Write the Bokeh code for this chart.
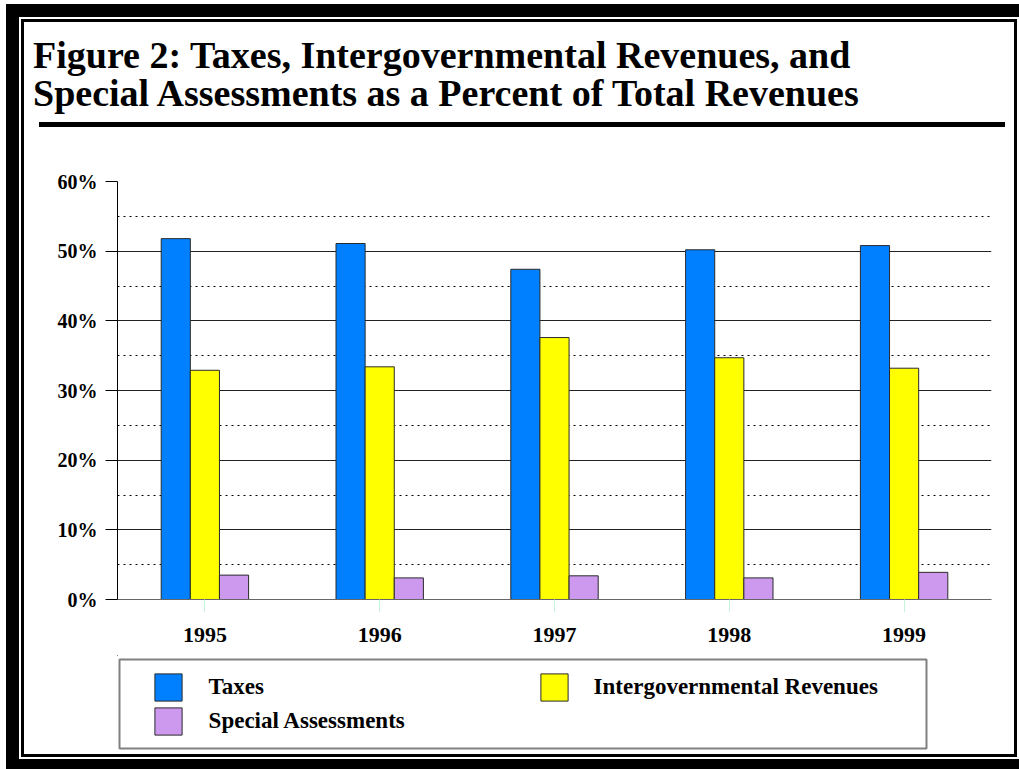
from bokeh.plotting import figure
from bokeh.layouts import column
from bokeh.models import (FactorRange, Range1d, FixedTicker, PrintfTickFormatter, Grid,
                          BoxAnnotation, Legend, LegendItem, ColumnDataSource, Div)
from bokeh.transform import dodge
from bokeh.embed import file_html
from bokeh.resources import INLINE

# ---------------- data ----------------
years = ["1995", "1996", "1997", "1998", "1999"]
taxes = [51.8, 51.1, 47.4, 50.2, 50.8]
intergov = [32.9, 33.4, 37.6, 34.7, 33.2]
special = [3.5, 3.1, 3.4, 3.1, 3.9]
series_names = ["Taxes", "Intergovernmental Revenues", "Special Assessments"]
y_ticks = [0, 10, 20, 30, 40, 50, 60]
y_minor = [5, 15, 25, 35, 45, 55]
title_lines = ["Figure 2: Taxes, Intergovernmental Revenues, and",
               "Special Assessments as a Percent of Total Revenues"]

FONT = "Liberation Serif"
W = 990
HA, HB, HC = 118, 515, 99
colors = ["#0080ff", "#ffff00", "#cc99ee"]
bar_line = "#2b2b2b"

# ---------------- header: title + rule (HTML) ----------------
header_html = (
    '<div style="position:relative;width:%dpx;height:%dpx;">'
    '<div style="position:absolute;left:9px;top:14.2px;font-family:\'%s\';font-weight:bold;'
    'font-size:38px;line-height:38px;color:black;white-space:nowrap;">%s<br>%s</div>'
    '<div style="position:absolute;left:15px;top:99.7px;width:966px;height:5.6px;'
    'background:black;"></div></div>'
) % (W, HA, FONT, title_lines[0], title_lines[1])
pa = Div(text=header_html, width=W, height=HA, margin=(0, 0, 0, 0))

# ---------------- chart ----------------
src = ColumnDataSource(dict(year=years, taxes=taxes, intergov=intergov, special=special))
p = figure(width=W, height=HB, output_backend="svg", toolbar_location=None,
           x_range=FactorRange(factors=years), y_range=Range1d(0, 60),
           min_border_left=93, min_border_right=23, min_border_top=41, min_border_bottom=56)
p.background_fill_color = "white"
p.border_fill_color = "white"
p.outline_line_color = None

bw = 1 / 6
p.vbar(x=dodge("year", -bw, range=p.x_range), top="taxes", width=bw, source=src,
       fill_color=colors[0], line_color=bar_line, line_width=1)
p.vbar(x=dodge("year", 0, range=p.x_range), top="intergov", width=bw, source=src,
       fill_color=colors[1], line_color=bar_line, line_width=1)
p.vbar(x=dodge("year", bw, range=p.x_range), top="special", width=bw, source=src,
       fill_color=colors[2], line_color=bar_line, line_width=1)

p.xgrid.visible = False
p.ygrid.ticker = FixedTicker(ticks=y_ticks[1:])
p.ygrid.grid_line_color = "#222222"
p.ygrid.grid_line_width = 1
p.add_layout(Grid(dimension=1, ticker=FixedTicker(ticks=y_minor), grid_line_color="black",
                  grid_line_dash="2 4", grid_line_width=1))

ya = p.yaxis[0]
ya.ticker = FixedTicker(ticks=y_ticks)
ya.formatter = PrintfTickFormatter(format="%d%%")
ya.axis_line_color = "black"
ya.major_tick_line_color = "black"
ya.major_tick_out = 12
ya.major_tick_in = 0
ya.minor_tick_line_color = None
ya.major_label_standoff = 8
ya.major_label_text_font = FONT
ya.major_label_text_font_style = "bold"
ya.major_label_text_font_size = "20px"
ya.major_label_text_color = "black"

xa = p.xaxis[0]
xa.axis_line_color = "#666666"
xa.major_tick_line_color = "#c6f5dc"
xa.major_tick_out = 13
xa.major_tick_in = 0
xa.major_label_standoff = 15
xa.major_label_text_font = FONT
xa.major_label_text_font_style = "bold"
xa.major_label_text_font_size = "22px"
xa.major_label_text_color = "black"

# ---------------- legend panel (frame aligned with chart: page x 117..991) ----------------
pc = figure(width=W, height=HC, output_backend="svg", toolbar_location=None,
            x_range=Range1d(117, 991), y_range=Range1d(HC, 0),
            x_axis_location=None, y_axis_location=None,
            min_border_left=93, min_border_right=23, min_border_top=0, min_border_bottom=0)
pc.outline_line_color = None
pc.background_fill_color = "white"
pc.border_fill_color = "white"
pc.xgrid.visible = False
pc.ygrid.visible = False
pc.add_layout(BoxAnnotation(left=119, right=926, top=4, bottom=93, fill_alpha=0,
                            line_color="#808080", line_alpha=1, line_width=2))
e = dict(x=[-1000], top=[0], width=1, line_color=bar_line, line_width=1)
d1 = pc.vbar(fill_color=colors[0], **e)
d2 = pc.vbar(fill_color=colors[1], **e)
d3 = pc.vbar(fill_color=colors[2], **e)
common = dict(orientation="vertical", glyph_width=34, glyph_height=34, label_height=34,
              spacing=0, padding=0, margin=0, border_line_alpha=0, background_fill_alpha=0,
              label_text_font=FONT, label_text_font_style="bold", label_text_font_size="23px",
              label_text_color="black")
pc.add_layout(Legend(items=[LegendItem(label=series_names[0], renderers=[d1]),
                            LegendItem(label=series_names[2], renderers=[d3])],
                     location=(33.6, 16.2), label_standoff=24, **common))
pc.add_layout(Legend(items=[LegendItem(label=series_names[1], renderers=[d2])],
                     location=(419.6, 50.2), label_standoff=23, **common))

layout = column(pa, p, pc, spacing=0, width=W, height=HA + HB + HC,
                margin=(22, 0, 0, 24),
                styles={"box-shadow": "0 0 0 3px black, 0 0 0 5px white, 0 0 0 18px black",
                        "background": "white"})

open("out.html", "w").write(file_html(layout, INLINE))
